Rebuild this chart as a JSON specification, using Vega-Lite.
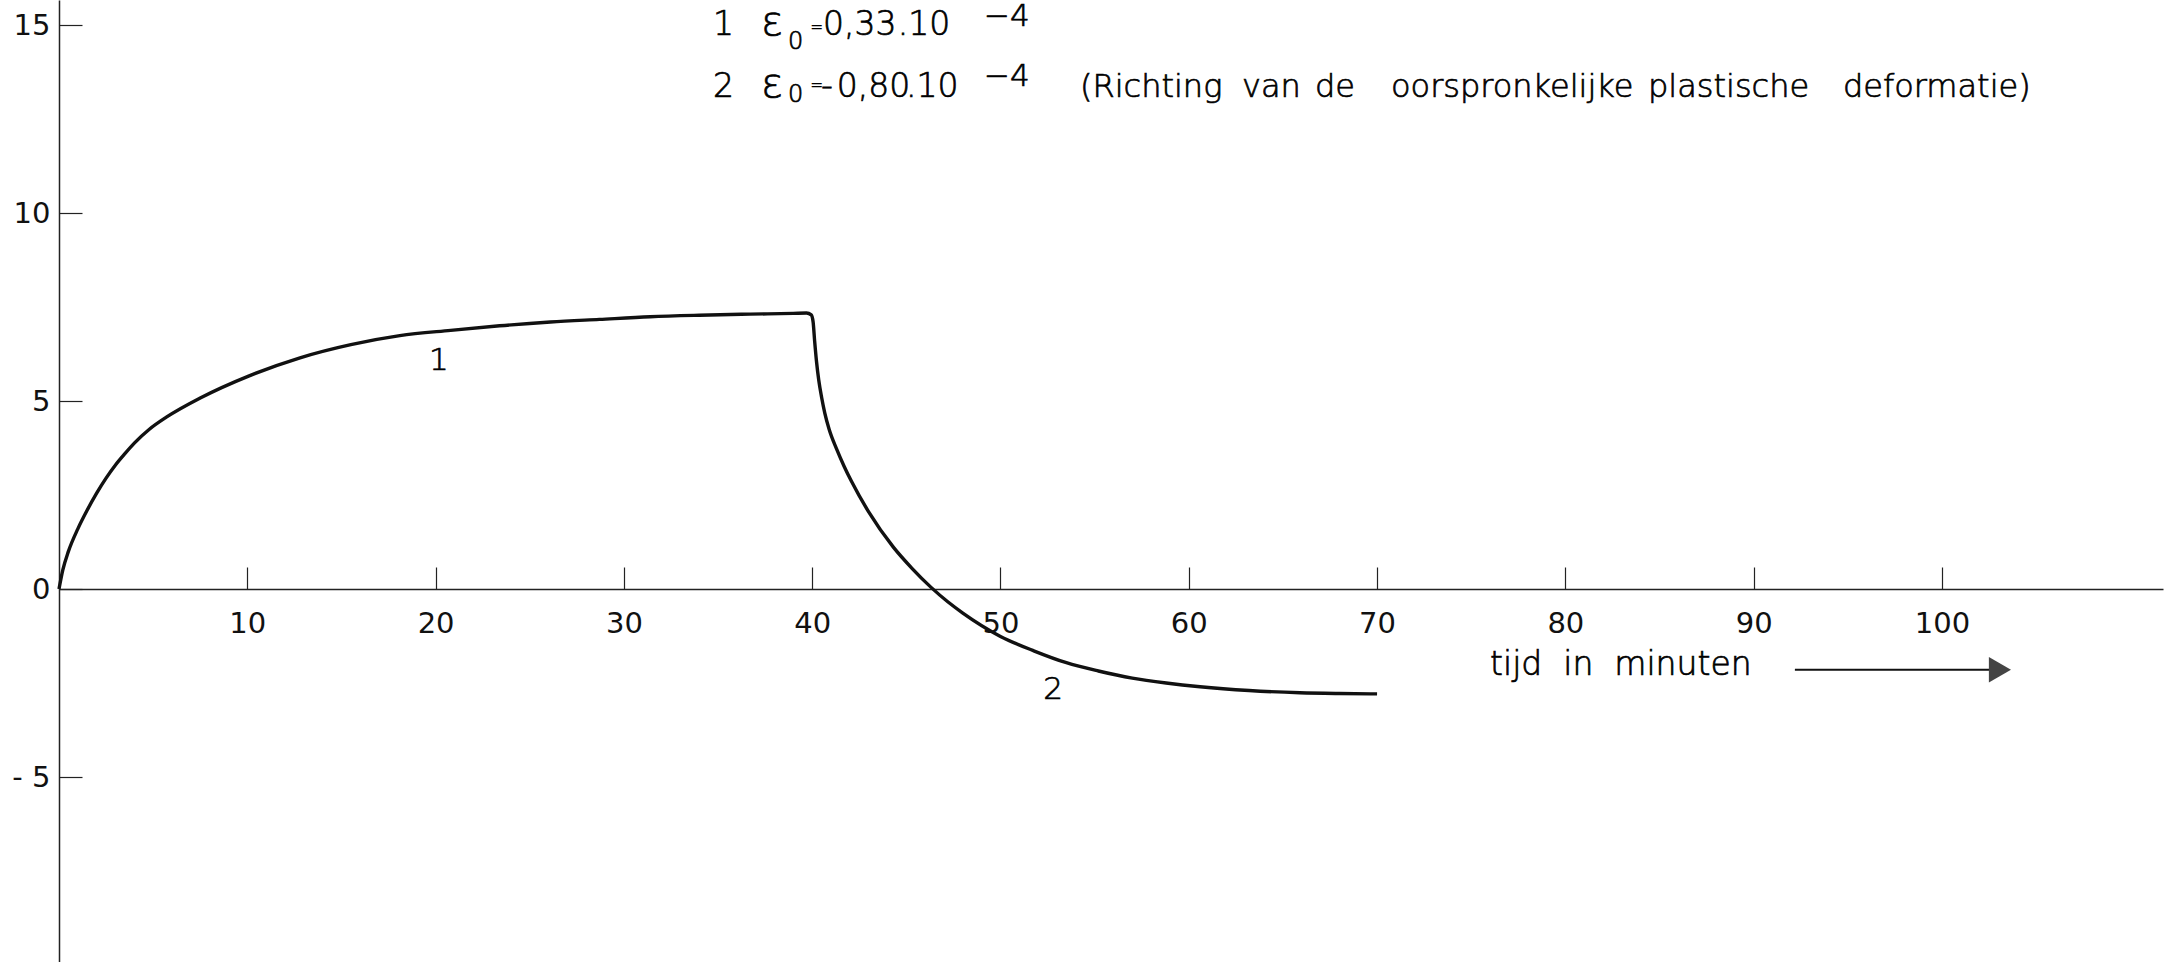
{
  "$schema": "https://vega.github.io/schema/vega-lite/v6.json",
  "width": 2104,
  "height": 962,
  "autosize": {"type": "none"},
  "padding": {"left": 59, "top": 0, "right": 18, "bottom": 0},
  "background": "white",
  "config": {
    "view": {"stroke": null},
    "font": "DejaVu Sans",
    "axis": {
      "grid": false,
      "domainColor": "#222",
      "domainWidth": 1.5,
      "tickColor": "#222",
      "tickWidth": 1.2,
      "labelColor": "#111",
      "labelFont": "DejaVu Sans",
      "labelFontSize": 29,
      "labelFontWeight": 400,
      "title": null
    },
    "text": {"font": "DejaVu Sans", "fontWeight": 200, "color": "#000", "stroke": "#000", "strokeWidth": 0.7}
  },
  "datasets": {
    "curve": [
      {"t": 0, "v": 0},
      {"t": 0.2, "v": 0.5},
      {"t": 0.5, "v": 1.0},
      {"t": 1.0, "v": 1.6},
      {"t": 1.5, "v": 2.1},
      {"t": 2.0, "v": 2.55},
      {"t": 2.5, "v": 2.95},
      {"t": 3.0, "v": 3.3},
      {"t": 3.5, "v": 3.6},
      {"t": 4.0, "v": 3.88},
      {"t": 4.8, "v": 4.25},
      {"t": 5.7, "v": 4.57},
      {"t": 7.5, "v": 5.08},
      {"t": 10.1, "v": 5.67},
      {"t": 12.8, "v": 6.15},
      {"t": 15.5, "v": 6.5},
      {"t": 18.1, "v": 6.74},
      {"t": 20.8, "v": 6.88},
      {"t": 23.4, "v": 7.0},
      {"t": 26.1, "v": 7.1},
      {"t": 28.7, "v": 7.17},
      {"t": 31.4, "v": 7.24},
      {"t": 34.0, "v": 7.28},
      {"t": 36.7, "v": 7.31},
      {"t": 39.0, "v": 7.33},
      {"t": 39.7, "v": 7.34},
      {"t": 39.95, "v": 7.29},
      {"t": 40.05, "v": 7.1},
      {"t": 40.13, "v": 6.6},
      {"t": 40.23, "v": 6.05},
      {"t": 40.35, "v": 5.55},
      {"t": 40.5, "v": 5.1},
      {"t": 40.67, "v": 4.68},
      {"t": 40.9, "v": 4.25},
      {"t": 41.3, "v": 3.72},
      {"t": 41.7, "v": 3.26},
      {"t": 42.1, "v": 2.85},
      {"t": 43.0, "v": 2.05},
      {"t": 44.3, "v": 1.12},
      {"t": 45.3, "v": 0.55},
      {"t": 46.3, "v": 0.05},
      {"t": 47.2, "v": -0.34},
      {"t": 48.0, "v": -0.64},
      {"t": 50.0, "v": -1.26},
      {"t": 51.8, "v": -1.65},
      {"t": 53.5, "v": -1.96},
      {"t": 55.2, "v": -2.18},
      {"t": 57.0, "v": -2.37},
      {"t": 58.8, "v": -2.5},
      {"t": 60.6, "v": -2.6},
      {"t": 63.2, "v": -2.7},
      {"t": 65.9, "v": -2.76},
      {"t": 68.0, "v": -2.78},
      {"t": 70.0, "v": -2.79}
    ],
    "legendtext": [
      {"t": 34.73, "v": 14.734, "label": "1"},
      {"t": 40.57, "v": 14.734, "label": "0,33"},
      {"t": 44.55, "v": 14.734, "label": ".10"},
      {"t": 34.73, "v": 13.085, "label": "2"},
      {"t": 40.47, "v": 13.085, "label": "-"},
      {"t": 41.3, "v": 13.085, "label": "0,80"},
      {"t": 44.98, "v": 13.085, "label": ".10"}
    ],
    "sup": [
      {"t": 49.12, "v": 14.97, "label": "−4"},
      {"t": 49.12, "v": 13.378, "label": "−4"}
    ],
    "words": [
      {"t": 54.22, "v": 13.085, "label": "(Richting"},
      {"t": 62.83, "v": 13.085, "label": "van"},
      {"t": 66.7, "v": 13.085, "label": "de"},
      {"t": 70.74, "v": 13.085, "label": "oorspronkelijke"},
      {"t": 84.39, "v": 13.085, "label": "plastische"},
      {"t": 94.74, "v": 13.085, "label": "deformatie)"}
    ],
    "xtitle": [
      {"t": 76.0, "v": -2.287, "label": "tijd\u00a0\u00a0in\u00a0\u00a0minuten"}
    ],
    "epsilon": [
      {"t": 37.28, "v": 14.734, "label": "ε"},
      {"t": 37.28, "v": 13.085, "label": "ε"}
    ],
    "sub": [
      {"t": 38.72, "v": 14.362, "label": "0"},
      {"t": 38.72, "v": 12.952, "label": "0"}
    ],
    "eq": [
      {"t": 39.88, "v": 14.814, "label": "="},
      {"t": 39.88, "v": 13.271, "label": "="}
    ],
    "curvelabels": [
      {"t": 20.18, "v": 6.06, "label": "1"},
      {"t": 52.79, "v": -2.69, "label": "2"}
    ],
    "arrow": [{"t": 92.19, "t2": 102.55, "v": -2.15}],
    "arrowhead": [{"t": 103.08, "v": -2.15}]
  },
  "encoding": {
    "x": {
      "field": "t",
      "type": "quantitative",
      "scale": {"domain": [0, 111.74], "nice": false, "zero": false},
      "axis": {
        "orient": "bottom",
        "offset": -373,
        "values": [10, 20, 30, 40, 50, 60, 70, 80, 90, 100],
        "tickSize": -22,
        "labelPadding": 42,
        "labelBaseline": "top"
      }
    },
    "y": {
      "field": "v",
      "type": "quantitative",
      "scale": {"domain": [-9.92, 15.665], "nice": false, "zero": false},
      "axis": {
        "orient": "left",
        "values": [-5, 0, 5, 10, 15],
        "tickSize": -23,
        "labelPadding": 32,
        "labelExpr": "datum.value < 0 ? '- ' + (-datum.value) : '' + datum.value"
      }
    }
  },
  "layer": [
    {
      "data": {"name": "curve"},
      "mark": {"type": "line", "color": "#111", "strokeWidth": 3.4, "interpolate": "monotone"}
    },
    {
      "data": {"name": "legendtext"},
      "mark": {"type": "text", "fontSize": 33, "align": "left", "baseline": "alphabetic"},
      "encoding": {"text": {"field": "label"}}
    },
    {
      "data": {"name": "sup"},
      "mark": {"type": "text", "fontSize": 31, "align": "left", "baseline": "alphabetic"},
      "encoding": {"text": {"field": "label"}}
    },
    {
      "data": {"name": "words"},
      "mark": {"type": "text", "fontSize": 32, "align": "left", "baseline": "alphabetic"},
      "encoding": {"text": {"field": "label"}}
    },
    {
      "data": {"name": "xtitle"},
      "mark": {"type": "text", "fontSize": 33, "align": "left", "baseline": "alphabetic"},
      "encoding": {"text": {"field": "label"}}
    },
    {
      "data": {"name": "epsilon"},
      "mark": {"type": "text", "fontSize": 41, "align": "left", "baseline": "alphabetic"},
      "encoding": {"text": {"field": "label"}}
    },
    {
      "data": {"name": "sub"},
      "mark": {"type": "text", "fontSize": 24, "align": "left", "baseline": "alphabetic"},
      "encoding": {"text": {"field": "label"}}
    },
    {
      "data": {"name": "eq"},
      "mark": {"type": "text", "fontSize": 16, "fontWeight": 400, "strokeWidth": 0, "align": "left", "baseline": "alphabetic"},
      "encoding": {"text": {"field": "label"}}
    },
    {
      "data": {"name": "curvelabels"},
      "mark": {"type": "text", "fontSize": 31, "align": "center", "baseline": "middle"},
      "encoding": {"text": {"field": "label"}}
    },
    {
      "data": {"name": "arrow"},
      "mark": {"type": "rule", "color": "#111", "strokeWidth": 2},
      "encoding": {"x2": {"field": "t2"}}
    },
    {
      "data": {"name": "arrowhead"},
      "mark": {"type": "point", "shape": "triangle-right", "filled": true, "color": "#444", "size": 650, "opacity": 1}
    }
  ]
}
